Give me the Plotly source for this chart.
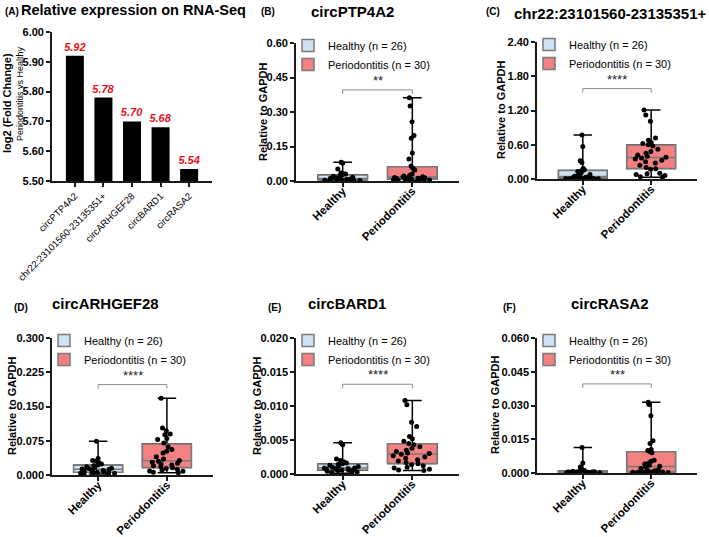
import numpy as np
import plotly.graph_objects as go

W, H = 709, 537
FONT = "Arial, 'Liberation Sans', Helvetica, sans-serif"

# ---------------- data ----------------
rna_genes = ["circPTP4A2", "chr22:23101560-23135351+", "circARHGEF28", "circBARD1", "circRASA2"]
rna_log2fc = [5.92, 5.78, 5.70, 5.68, 5.54]
rna_range = [5.50, 6.00]

groups = ["Healthy", "Periodontitis"]
legend_names = ["Healthy (n = 26)", "Periodontitis (n = 30)"]

ptp4a2_healthy = [0.082, 0.078, 0.052, 0.035, 0.032, 0.030, 0.027, 0.024, 0.021, 0.018, 0.016, 0.014, 0.012,
                  0.010, 0.009, 0.008, 0.007, 0.006, 0.005, 0.005, 0.004, 0.003, 0.003, 0.002, 0.002, 0.001]
ptp4a2_perio = [0.362, 0.326, 0.258, 0.198, 0.186, 0.122, 0.096, 0.065, 0.055, 0.048, 0.030, 0.025, 0.022, 0.020,
                0.018, 0.017, 0.015, 0.014, 0.013, 0.012, 0.011, 0.010, 0.009, 0.008, 0.007, 0.006, 0.005, 0.004,
                0.003, 0.002]

chr22_healthy = [0.77, 0.57, 0.32, 0.29, 0.19, 0.16, 0.15, 0.14, 0.13, 0.10, 0.08, 0.06, 0.05, 0.04, 0.035,
                 0.03, 0.025, 0.02, 0.018, 0.015, 0.012, 0.01, 0.008, 0.006, 0.004, 0.003]
chr22_perio = [1.21, 1.12, 1.01, 0.72, 0.68, 0.64, 0.62, 0.60, 0.58, 0.52, 0.48, 0.45, 0.42, 0.40, 0.38, 0.37,
               0.35, 0.33, 0.30, 0.28, 0.24, 0.20, 0.18, 0.17, 0.10, 0.09, 0.08, 0.06, 0.04, 0.03]

arhgef28_healthy = [0.074, 0.036, 0.032, 0.030, 0.027, 0.024, 0.022, 0.020, 0.018, 0.016, 0.015, 0.014, 0.013,
                    0.012, 0.011, 0.010, 0.009, 0.008, 0.007, 0.006, 0.006, 0.005, 0.004, 0.004, 0.003, 0.002]
arhgef28_perio = [0.168, 0.103, 0.097, 0.090, 0.088, 0.080, 0.078, 0.070, 0.062, 0.056, 0.052, 0.048, 0.040,
                  0.035, 0.032, 0.030, 0.028, 0.026, 0.024, 0.022, 0.020, 0.018, 0.016, 0.014, 0.012, 0.010,
                  0.009, 0.008, 0.006, 0.005]

bard1_healthy = [0.0046, 0.0043, 0.0022, 0.0020, 0.0018, 0.0016, 0.0015, 0.0014, 0.0013, 0.0012, 0.0011, 0.0010,
                 0.0009, 0.0009, 0.0008, 0.0008, 0.0007, 0.0007, 0.0006, 0.0006, 0.0005, 0.0005, 0.0004, 0.0003,
                 0.0002, 0.0001]
bard1_perio = [0.0108, 0.0102, 0.0076, 0.0070, 0.0055, 0.0052, 0.0048, 0.0045, 0.0043, 0.0040, 0.0038, 0.0035,
               0.0033, 0.0031, 0.0030, 0.0029, 0.0027, 0.0025, 0.0023, 0.0021, 0.0019, 0.0017, 0.0015, 0.0014,
               0.0012, 0.0010, 0.0009, 0.0007, 0.0006, 0.0005]

rasa2_healthy = [0.0113, 0.0045, 0.0027, 0.0014, 0.0012, 0.0011, 0.0010, 0.0009, 0.0008, 0.0007, 0.0006, 0.0005,
                 0.0005, 0.0004, 0.0004, 0.0003, 0.0003, 0.0003, 0.0002, 0.0002, 0.0002, 0.0001, 0.0001, 0.0001,
                 0.0001, 0.0000]
rasa2_perio = [0.0315, 0.0305, 0.0255, 0.0143, 0.0131, 0.0104, 0.0100, 0.0096, 0.0090, 0.0057, 0.0052, 0.0044,
               0.0040, 0.0035, 0.0030, 0.0028, 0.0020, 0.0015, 0.0012, 0.0010, 0.0008, 0.0006, 0.0005, 0.0004,
               0.0004, 0.0003, 0.0003, 0.0002, 0.0002, 0.0001]

panel_letters = ["(B)", "(C)", "(D)", "(E)", "(F)"]
panel_titles = ["circPTP4A2", "chr22:23101560-23135351+", "circARHGEF28", "circBARD1", "circRASA2"]
panel_stars = ["**", "****", "****", "****", "***"]
y_max = [0.60, 2.40, 0.300, 0.020, 0.060]
y_step = [0.15, 0.60, 0.075, 0.005, 0.015]
y_fmt = [".2f", ".2f", ".3f", ".3f", ".3f"]
box_data = [(ptp4a2_healthy, ptp4a2_perio), (chr22_healthy, chr22_perio), (arhgef28_healthy, arhgef28_perio),
            (bard1_healthy, bard1_perio), (rasa2_healthy, rasa2_perio)]

# ---------------- layout geometry (pixels) ----------------
def X(px):
    return px / W

def Y(py):
    return 1 - py / H

geom_A = (52, 212, 32, 181)
geom_box = [(296, 459, 43, 181), (537, 697, 42, 179), (52, 213, 338, 475), (296, 459, 338, 474), (537, 697, 338, 473)]
letter_pos = [(268, 11), (493, 12), (21, 307), (274, 307), (509, 307)]
title_pos = [(352, 11), (610, 13), (106, 303), (347, 303), (610, 303)]
ytitle_pos = [(263, 112), (501, 110), (12, 406), (257, 406), (495, 405)]

AX_COLOR = "#1a1a1a"
fills = ["#cfe2f3", "#f38181"]
BOXW = 0.71

fig = go.Figure()

# ---------------- panel A ----------------
fig.add_trace(go.Bar(
    x=rna_genes, y=rna_log2fc, width=0.63,
    marker=dict(color="black", line=dict(width=0)),
    texttemplate="%{y:.2f}", textposition="outside", constraintext="none",
    textfont=dict(color="#e5131b", size=11, family=FONT, weight="bold", style="italic"),
    showlegend=False, xaxis="x", yaxis="y"))

axis_common = dict(showline=True, linecolor=AX_COLOR, linewidth=1.6, ticks="outside", ticklen=4,
                   tickwidth=1.5, tickcolor=AX_COLOR, showgrid=False, zeroline=False, automargin=False)

layout = dict(
    width=W, height=H, margin=dict(l=0, r=0, t=0, b=0),
    paper_bgcolor="white", plot_bgcolor="white",
    font=dict(family=FONT, color="black"),
    boxmode="overlay", bargap=0.3,
    xaxis=dict(domain=[X(geom_A[0]), X(geom_A[1])], anchor="y", range=[-0.8, 4.8], tickangle=-45,
               tickfont=dict(size=9.5, family=FONT, color="black"), **axis_common),
    yaxis=dict(domain=[Y(geom_A[3]), Y(geom_A[2])], anchor="x", range=rna_range, dtick=0.1, tick0=5.5,
               tickformat=".2f", tickfont=dict(size=11, family=FONT, color="black", weight="bold"), **axis_common),
)

annotations = [
    dict(text="<b>(A)</b>", x=X(3), y=Y(11), xanchor="left", yanchor="middle", font=dict(size=10)),
    dict(text="<b>Relative expression on RNA-Seq</b>", x=X(19), y=Y(10), xanchor="left", yanchor="middle",
         font=dict(size=14.5)),
    dict(text="<b>log2 (Fold Change)</b>", x=X(7), y=Y(103), xanchor="center", yanchor="middle",
         textangle=-90, font=dict(size=11)),
    dict(text="Periodontitis vs Healthy", x=X(20), y=Y(94), xanchor="center", yanchor="middle",
         textangle=-90, font=dict(size=9)),
]
shapes = []

# ---------------- panels B-F ----------------
for i, (vals_h, vals_p) in enumerate(box_data):
    n = i + 2
    xa, ya = f"x{n}", f"y{n}"
    leg = "legend" if i == 0 else f"legend{i + 1}"
    gx0, gx1, gy0, gy1 = geom_box[i]
    for g, vals, fill, name in zip(groups, (vals_h, vals_p), fills, legend_names):
        q1, med, q3 = np.percentile(vals, [25, 50, 75])
        lo, hi = float(np.min(vals)), float(np.max(vals))
        fig.add_trace(go.Box(x=[g], q1=[q1], median=[med], q3=[q3], lowerfence=[lo], upperfence=[hi],
                             width=BOXW, whiskerwidth=0.38, line=dict(color="black", width=1.5),
                             fillcolor="rgba(0,0,0,0)", boxpoints=False, showlegend=False,
                             hoverinfo="skip", xaxis=xa, yaxis=ya))
        fig.add_trace(go.Box(x=[g], q1=[q1], median=[med], q3=[q3], lowerfence=[q1], upperfence=[q3],
                             width=BOXW, whiskerwidth=0, line=dict(color="#7a7a7a", width=1.5),
                             fillcolor=fill, boxpoints=False, name=name, showlegend=True, legend=leg,
                             xaxis=xa, yaxis=ya))
        fig.add_trace(go.Box(x=[g] * len(vals), y=vals, boxpoints="all", jitter=0.9, pointpos=0,
                             width=BOXW, fillcolor="rgba(0,0,0,0)",
                             line=dict(color="rgba(0,0,0,0)", width=0),
                             marker=dict(color="black", size=5), showlegend=False, xaxis=xa, yaxis=ya))

    layout[f"xaxis{n}"] = dict(domain=[X(gx0), X(gx1)], anchor=ya, range=[-0.67, 1.67], type="category",
                               categoryorder="array", categoryarray=groups, tickangle=-45,
                               ticklabelstandoff=-7,
                               tickfont=dict(size=11.5, family=FONT, color="black", weight="bold"), **axis_common)
    layout[f"yaxis{n}"] = dict(domain=[Y(gy1), Y(gy0)], anchor=xa, range=[0, y_max[i]], tick0=0,
                               dtick=y_step[i], tickformat=y_fmt[i],
                               tickfont=dict(size=11, family=FONT, color="black", weight="bold"), **axis_common)
    layout[leg] = dict(x=X(gx0 - 8), y=Y(gy0 - 12), xanchor="left", yanchor="top", bgcolor="rgba(0,0,0,0)",
                       font=dict(size=11, family=FONT, color="black"), tracegroupgap=0,
                       traceorder="normal", borderwidth=0)

    level = 0.66 * y_max[i]
    drop = 0.03 * y_max[i]
    for (a0, b0, a1, b1) in [(0, level, 1, level), (0, level, 0, level - drop), (1, level, 1, level - drop)]:
        shapes.append(dict(type="line", xref=xa, yref=ya, x0=a0, y0=b0, x1=a1, y1=b1,
                           line=dict(color="#8c8c8c", width=1)))
    annotations.append(dict(text=panel_stars[i], xref=xa, yref=ya, x=0.5, y=level, xanchor="center",
                            yanchor="bottom", yshift=0, font=dict(size=13, color="#222222")))

    lx, ly = letter_pos[i]
    annotations.append(dict(text=f"<b>{panel_letters[i]}</b>", x=X(lx), y=Y(ly), xanchor="center",
                            yanchor="middle", font=dict(size=10)))
    tx, ty = title_pos[i]
    annotations.append(dict(text=f"<b>{panel_titles[i]}</b>", x=X(tx), y=Y(ty), xanchor="center",
                            yanchor="middle", font=dict(size=15)))
    yx, yy = ytitle_pos[i]
    annotations.append(dict(text="<b>Relative to GAPDH</b>", x=X(yx), y=Y(yy), xanchor="center",
                            yanchor="middle", textangle=-90, font=dict(size=11)))

for a in annotations:
    a.setdefault("xref", "paper")
    a.setdefault("yref", "paper")
    a["showarrow"] = False
    a["font"] = dict(family=FONT, color=a["font"].get("color", "black"), size=a["font"]["size"])

layout["annotations"] = annotations
layout["shapes"] = shapes
fig.update_layout(**layout)
fig.write_html("out.html", config={"displayModeBar": False},
               post_script="document.body.style.margin='0px';")
